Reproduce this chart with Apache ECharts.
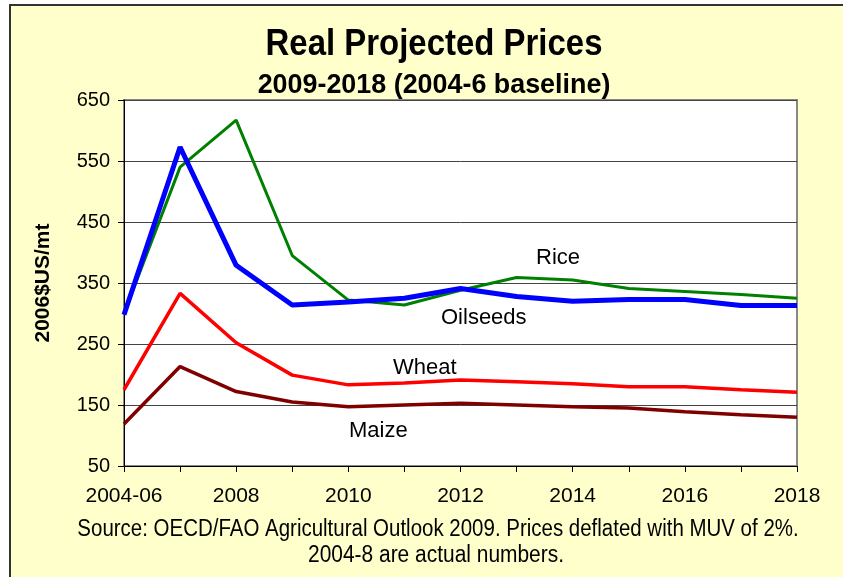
<!DOCTYPE html>
<html>
<head>
<meta charset="utf-8">
<script src="https://cdn.jsdelivr.net/npm/echarts@6/dist/echarts.min.js"></script>
<style>
html,body{margin:0;padding:0;background:#fff;}
#chart{width:843px;height:577px;}
</style>
</head>
<body>
<div id="chart"></div>
<script>
const categories = ['2004-06','2007','2008','2009','2010','2011','2012','2013','2014','2015','2016','2017','2018'];
const oilseeds = [298, 573, 379, 314, 319, 325, 341, 328, 320, 323, 323, 313, 313];
const rice     = [300, 540, 617, 395, 322, 314, 338, 359, 355, 341, 336, 331, 325];
const wheat    = [175, 333, 252, 199, 183, 186, 191, 188, 185, 180, 180, 175, 171];
const maize    = [119, 213, 172, 155, 147, 150, 153, 150, 147, 145, 139, 134, 130];
const yTicks = [50, 150, 250, 350, 450, 550, 650];

const sans = '"Liberation Sans", Arial, sans-serif';

const chart = echarts.init(document.getElementById('chart'));
chart.setOption({
  backgroundColor: '#ffffff',
  animation: false,
  graphic: [
    {type: 'rect', z: -10, shape: {x: 10, y: 5, width: 900, height: 700},
     style: {fill: '#FFFFCC', stroke: '#333333', lineWidth: 2}},
    {type: 'text', x: 434, y: 45, scaleX: 0.915, z: 10,
     style: {text: 'Real Projected Prices', font: 'bold 36px ' + sans, fill: '#000',
             textAlign: 'center', textVerticalAlign: 'middle'}},
    {type: 'text', x: 434, y: 85, scaleX: 0.96, z: 10,
     style: {text: '2009-2018 (2004-6 baseline)', font: 'bold 28px ' + sans, fill: '#000',
             textAlign: 'center', textVerticalAlign: 'middle'}},
    {type: 'text', left: 536, top: 247, z: 10,
     style: {text: 'Rice', font: '22px ' + sans, fill: '#000'}},
    {type: 'text', left: 441, top: 307, z: 10,
     style: {text: 'Oilseeds', font: '22px ' + sans, fill: '#000'}},
    {type: 'text', left: 393, top: 357, z: 10,
     style: {text: 'Wheat', font: '22px ' + sans, fill: '#000'}},
    {type: 'text', left: 349, top: 420, z: 10,
     style: {text: 'Maize', font: '22px ' + sans, fill: '#000'}},
    {type: 'text', x: 438, y: 530, scaleX: 0.89, z: 10,
     style: {text: 'Source: OECD/FAO Agricultural Outlook 2009. Prices deflated with MUV of 2%.', font: '23px ' + sans, fill: '#000',
             textAlign: 'center', textVerticalAlign: 'middle'}},
    {type: 'text', x: 436, y: 556, scaleX: 0.91, z: 10,
     style: {text: '2004-8 are actual numbers.', font: '23px ' + sans, fill: '#000',
             textAlign: 'center', textVerticalAlign: 'middle'}}
  ],
  grid: {left: 124, right: 46, top: 100, bottom: 111, show: true,
         backgroundColor: '#ffffff', borderColor: '#888888', borderWidth: 2},
  xAxis: {
    type: 'category', data: categories, boundaryGap: false,
    axisLine: {lineStyle: {color: '#000', width: 1}},
    axisTick: {show: true, interval: 0, length: 6, inside: false, lineStyle: {color: '#000'}},
    axisLabel: {interval: 1, margin: 20, fontFamily: sans, fontSize: 21, color: '#000'},
    splitLine: {show: false}
  },
  yAxis: {
    type: 'value', min: yTicks[0], max: yTicks[yTicks.length - 1], interval: 100,
    name: '2006$US/mt', nameLocation: 'middle', nameGap: 70, nameRotate: 90,
    nameTextStyle: {fontFamily: sans, fontWeight: 'bold', fontSize: 21, color: '#000'},
    axisLine: {show: true, lineStyle: {color: '#000', width: 1}},
    axisTick: {show: true, length: 6, lineStyle: {color: '#000'}},
    axisLabel: {margin: 14, fontFamily: sans, fontSize: 20, color: '#000'},
    splitLine: {show: true, lineStyle: {color: '#444444', width: 1}}
  },
  series: [
    {name: 'Rice', type: 'line', data: rice, symbol: 'none', lineStyle: {color: '#008000', width: 3}, z: 2},
    {name: 'Oilseeds', type: 'line', data: oilseeds, symbol: 'none', lineStyle: {color: '#0000FF', width: 5}, z: 3},
    {name: 'Wheat', type: 'line', data: wheat, symbol: 'none', lineStyle: {color: '#FF0000', width: 3.5}, z: 2},
    {name: 'Maize', type: 'line', data: maize, symbol: 'none', lineStyle: {color: '#800000', width: 3.5}, z: 2}
  ]
});
</script>
</body>
</html>
